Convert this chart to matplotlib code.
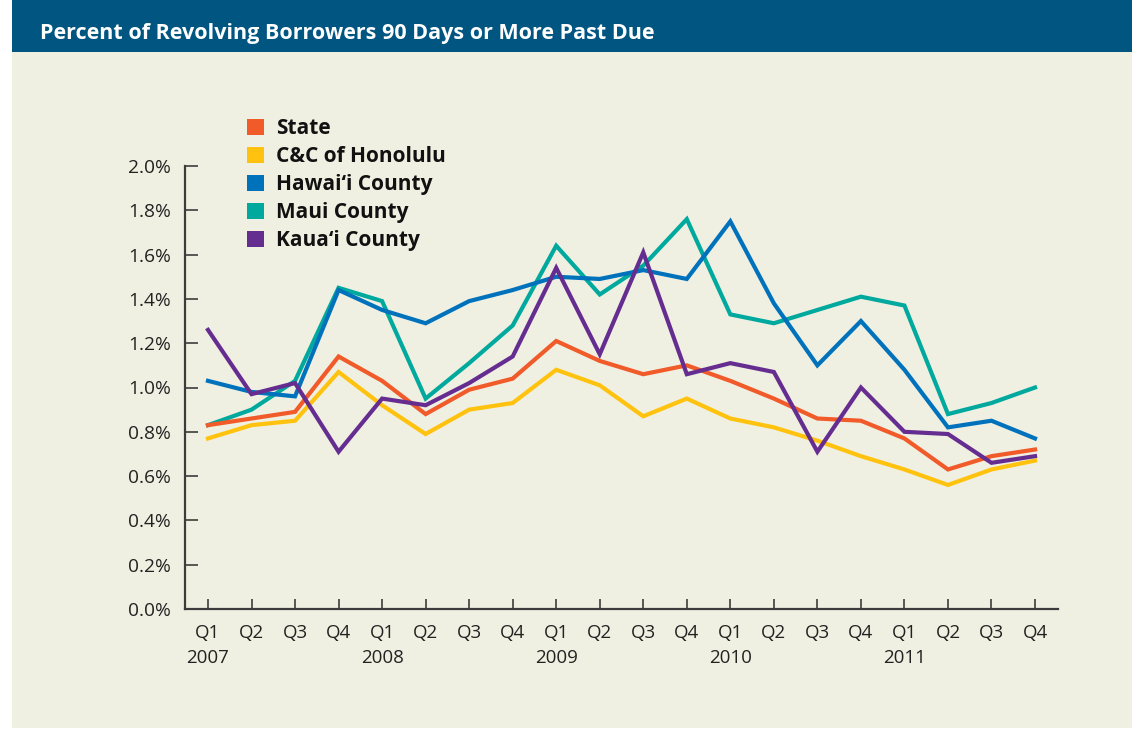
import matplotlib

matplotlib.use("Agg")
import matplotlib.pyplot as plt
from matplotlib.patches import Patch, Rectangle

plt.rcParams["font.family"] = ["Open Sans", "DejaVu Sans"]

# Quarterly values, Q1 2007 .. Q4 2011 (percent of revolving borrowers 90+ days past due)
quarters = ["Q1", "Q2", "Q3", "Q4"] * 5
years = ["2007", "", "", "", "2008", "", "", "", "2009", "", "", "",
         "2010", "", "", "", "2011", "", "", ""]

state = [0.83, 0.86, 0.89, 1.14, 1.03, 0.88, 0.99, 1.04, 1.21, 1.12,
         1.06, 1.10, 1.03, 0.95, 0.86, 0.85, 0.77, 0.63, 0.69, 0.72]
honolulu = [0.77, 0.83, 0.85, 1.07, 0.92, 0.79, 0.90, 0.93, 1.08, 1.01,
            0.87, 0.95, 0.86, 0.82, 0.76, 0.69, 0.63, 0.56, 0.63, 0.67]
hawaii = [1.03, 0.98, 0.96, 1.44, 1.35, 1.29, 1.39, 1.44, 1.50, 1.49,
          1.53, 1.49, 1.75, 1.38, 1.10, 1.30, 1.08, 0.82, 0.85, 0.77]
maui = [0.83, 0.90, 1.03, 1.45, 1.39, 0.95, 1.11, 1.28, 1.64, 1.42,
        1.55, 1.76, 1.33, 1.29, 1.35, 1.41, 1.37, 0.88, 0.93, 1.00]
kauai = [1.26, 0.97, 1.02, 0.71, 0.95, 0.92, 1.02, 1.14, 1.54, 1.15,
         1.61, 1.06, 1.11, 1.07, 0.71, 1.00, 0.80, 0.79, 0.66, 0.69]

series = [
    ("State", state, "#F15A29"),
    ("C&C of Honolulu", honolulu, "#FFC20E"),
    ("Hawai\u2018i County", hawaii, "#0072BC"),
    ("Maui County", maui, "#00A99D"),
    ("Kaua\u2018i County", kauai, "#662D91"),
]
# drawing order (bottom -> top) as in the original
draw_order = ["Maui County", "Hawai\u2018i County", "C&C of Honolulu", "State", "Kaua\u2018i County"]

W, H = 1138, 732
BG = "#F0F0E2"
HEADER = "#005581"
INK = "#3C3C3C"

fig = plt.figure(figsize=(W / 100, H / 100), dpi=100)
fig.patch.set_facecolor("white")

# panel background and header bar
fig.add_artist(Rectangle((12 / W, 4 / H), 1120 / W, 676 / H, transform=fig.transFigure,
                         facecolor=BG, edgecolor="none", zorder=0))
fig.add_artist(Rectangle((12 / W, 680 / H), 1120 / W, 52 / H, transform=fig.transFigure,
                         facecolor=HEADER, edgecolor="none", zorder=0))
fig.text(40 / W, 1 - 33 / H, "Percent of Revolving Borrowers 90 Days or More Past Due",
         color="white", fontsize=15.5, fontweight="bold", va="center", ha="left")

ax = fig.add_axes([185 / W, 123 / H, 873 / W, 443 / H])
ax.set_facecolor("none")

x = list(range(len(quarters)))
lookup = {name: (vals, color) for name, vals, color in series}
for name in draw_order:
    vals, color = lookup[name]
    ax.plot(x, vals, color=color, lw=3, solid_joinstyle="miter", zorder=3)

ax.set_xlim(-0.528, 19.528)
ax.set_ylim(0, 2.0)
ax.set_yticks([i * 0.2 for i in range(11)])
ax.set_yticklabels([f"{i * 0.2:.1f}%" for i in range(11)])
ax.set_xticks(x)
ax.set_xticklabels([f"{q}\n{y}" if y else q for q, y in zip(quarters, years)],
                   linespacing=1.45, va="top")

for side in ("top", "right"):
    ax.spines[side].set_visible(False)
for side in ("left", "bottom"):
    ax.spines[side].set_color(INK)
    ax.spines[side].set_linewidth(1.6)

ax.tick_params(axis="y", direction="in", length=9.5, width=1.2, color=INK,
               labelsize=13.8, labelcolor="#222222", pad=10)
ax.tick_params(axis="x", direction="in", length=7, width=1.2, color=INK,
               labelsize=13.5, labelcolor="#222222", pad=11)

handles = [Patch(facecolor=c, edgecolor="none", label=n) for n, _, c in series]
leg = fig.legend(handles=handles, loc="upper left",
                 bbox_to_anchor=(247 / W, 1 - 118 / H), frameon=False,
                 handlelength=0.8, handleheight=0.8, handletextpad=0.6,
                 labelspacing=0.34, borderpad=0, borderaxespad=0,
                 prop={"weight": "bold", "size": 15})
for t in leg.get_texts():
    t.set_color("#111111")

fig.savefig("out.png", dpi=100, facecolor=fig.get_facecolor())
